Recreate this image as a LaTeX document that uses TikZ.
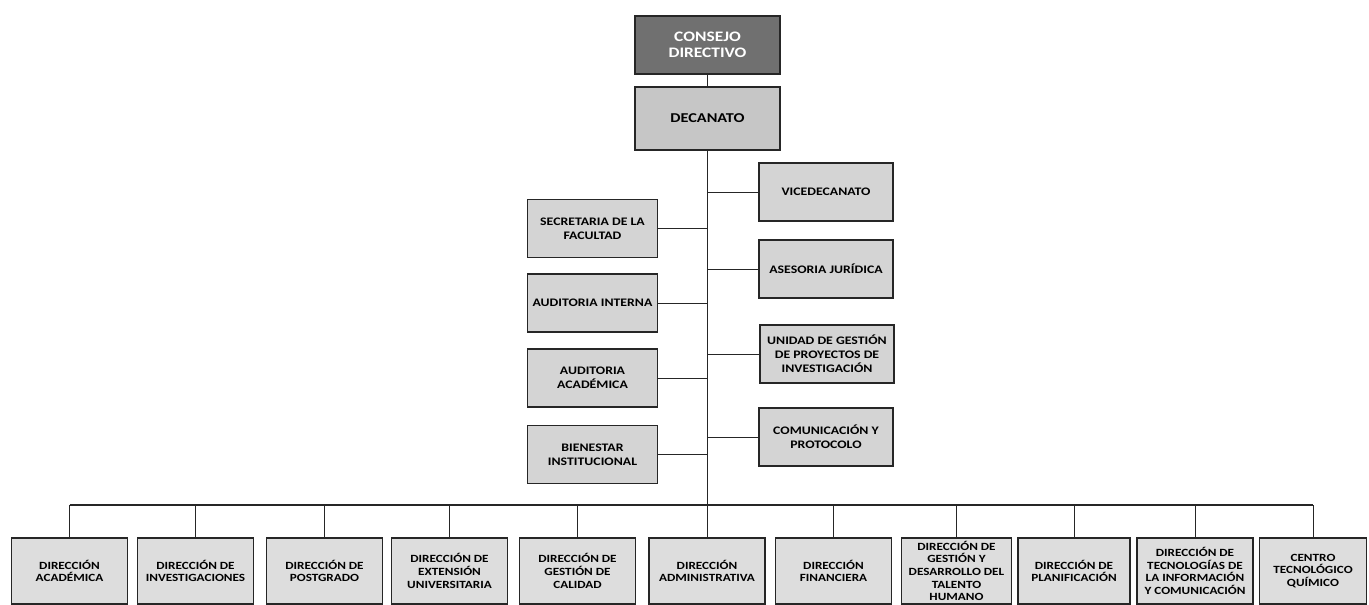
\documentclass[tikz,border=0pt]{standalone}
\usepackage{fontspec}
\setmainfont[FakeStretch=1.2]{Carlito}
\usepackage{tikz}
\newcommand{\ybot}{571}
\definecolor{jefe}{HTML}{707070}
\definecolor{deca}{HTML}{C6C6C6}
\definecolor{medio}{HTML}{D4D4D4}
\definecolor{claro}{HTML}{DDDDDD}

\begin{document}
\begin{tikzpicture}[x=1pt, y=-1pt,
    box/.style={draw=black!85, line width=1.5pt, rectangle, inner sep=0pt, align=center},
    topbox/.style={box, fill=jefe, text=white, minimum width=145pt, minimum height=58pt, font=\bfseries\fontsize{14.5}{16}\selectfont},
    decabox/.style={box, fill=deca, minimum width=145pt, minimum height=63pt, font=\bfseries\fontsize{13.5}{15}\selectfont},
    midbox/.style={box, fill=medio, minimum width=130pt, minimum height=58pt, font=\bfseries\fontsize{11.5}{13.8}\selectfont},
    dirbox/.style={box, fill=claro, minimum width=116pt, minimum height=66pt, font=\bfseries\fontsize{11}{12.6}\selectfont},
    link/.style={draw=black!85, line width=1pt}]
    \useasboundingbox (0,0) rectangle (1369,605);

    % Top
    \node[topbox] (consejo) at (707.5,45) {CONSEJO\\DIRECTIVO};
    \node[decabox] (decanato) at (707.5,118.5) {DECANATO};

    % Left column
    \node[midbox] (secretaria) at (592.5,228.5) {SECRETARIA DE LA\\FACULTAD};
    \node[midbox] (aud-interna) at (592.5,303) {AUDITORIA INTERNA};
    \node[midbox] (aud-academica) at (592.5,378) {AUDITORIA\\ACADÉMICA};
    \node[midbox] (bienestar) at (592.5,454.5) {BIENESTAR\\INSTITUCIONAL};

    % Right column
    \node[midbox, minimum width=134pt] (vicedecanato) at (826,192) {VICEDECANATO};
    \node[midbox, minimum width=134pt] (asesoria) at (826,269) {ASESORIA JURÍDICA};
    \node[midbox, minimum width=134pt] (unidad) at (827,354) {UNIDAD DE GESTIÓN\\DE PROYECTOS DE\\INVESTIGACIÓN};
    \node[midbox, minimum width=134pt] (comunicacion) at (826,437) {COMUNICACIÓN Y\\PROTOCOLO};

    % Bottom row
    \node[dirbox] (dir-1) at (69.5,\ybot) {DIRECCIÓN\\ACADÉMICA};
    \node[dirbox] (dir-2) at (195.5,\ybot) {DIRECCIÓN DE\\INVESTIGACIONES};
    \node[dirbox] (dir-3) at (324.5,\ybot) {DIRECCIÓN DE\\POSTGRADO};
    \node[dirbox] (dir-4) at (449.5,\ybot) {DIRECCIÓN DE\\EXTENSIÓN\\UNIVERSITARIA};
    \node[dirbox] (dir-5) at (577.5,\ybot) {DIRECCIÓN DE\\GESTIÓN DE\\CALIDAD};
    \node[dirbox] (dir-6) at (707,\ybot) {DIRECCIÓN\\ADMINISTRATIVA};
    \node[dirbox] (dir-7) at (833.5,\ybot) {DIRECCIÓN\\FINANCIERA};
    \node[dirbox, minimum width=110pt] (dir-8) at (956.5,\ybot) {DIRECCIÓN DE\\GESTIÓN Y\\DESARROLLO DEL\\TALENTO\\HUMANO};
    \node[dirbox, minimum width=112pt] (dir-9) at (1074,\ybot) {DIRECCIÓN DE\\PLANIFICACIÓN};
    \node[dirbox] (dir-10) at (1195,\ybot) {DIRECCIÓN DE\\TECNOLOGÍAS DE\\LA INFORMACIÓN\\Y COMUNICACIÓN};
    \node[dirbox, minimum width=107pt] (dir-11) at (1313,\ybot) {CENTRO\\TECNOLÓGICO\\QUÍMICO};

    % Connectors
    \coordinate (bus) at (708,505);
    \draw[link] (consejo) -- (decanato);
    \draw[link] (decanato.south) -- (decanato.south |- dir-6.north);
    \foreach \n in {secretaria, aud-interna, aud-academica, bienestar, vicedecanato, asesoria, unidad, comunicacion}
        \draw[link] (\n) -- (\n -| decanato.south);
    \draw[link, line width=1.5pt] (dir-1.north |- bus) -- (dir-11.north |- bus);
    \foreach \i in {1,...,11}
        \draw[link] (dir-\i.north) -- (dir-\i.north |- bus);
\end{tikzpicture}
\end{document}
